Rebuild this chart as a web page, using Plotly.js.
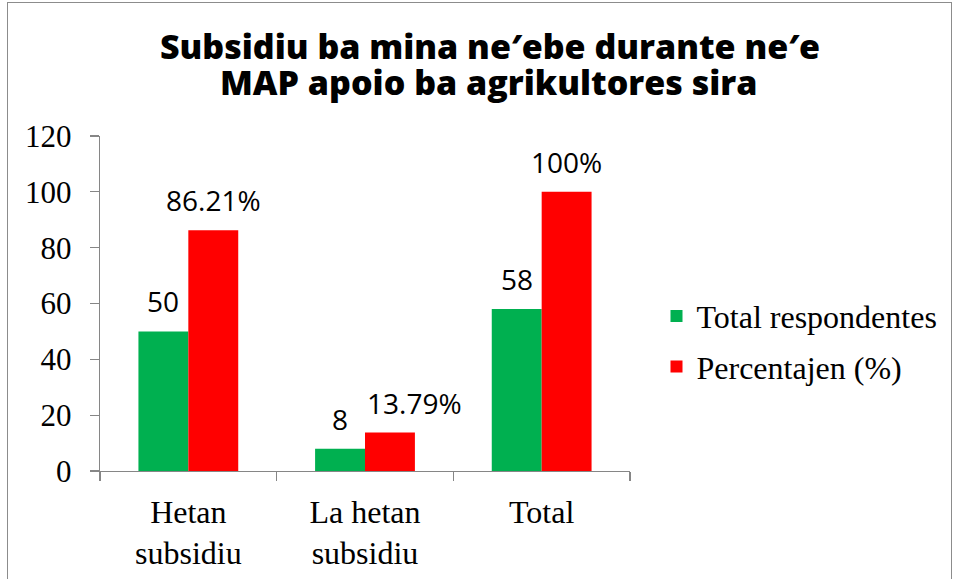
<!DOCTYPE html>
<html>
<head>
<meta charset="utf-8">
<script src="https://cdn.plot.ly/plotly-3.0.1.min.js"></script>
<style>
  html, body { margin: 0; padding: 0; background: #fff; }
  #wrap { position: relative; width: 954px; height: 579px; overflow: hidden; }
  #chart { width: 954px; height: 579px; }
  #frame { position: absolute; left: 7px; top: 2px; width: 945px; height: 600px;
           border: 1.5px solid #8c8c8c; pointer-events: none; box-sizing: border-box; }
</style>
</head>
<body>
<div id="wrap">
  <div id="chart"></div>
  <div id="frame"></div>
</div>
<script>
const categories = ["Hetan<br>subsidiu", "La hetan<br>subsidiu", "Total"];
const respondentes = [50, 8, 58];
const percentajen = [86.21, 13.79, 100];
const respondentesLabels = ["50", "8", "58"];
const percentajenLabels = ["86.21%", "13.79%", "100%"];
const seriesNames = ["Total respondentes", "Percentajen (%)"];
const yTicks = [0, 20, 40, 60, 80, 100, 120];
const titleLines = ["Subsidiu ba mina ne\u2032ebe durante ne\u2032e", "MAP apoio ba agrikultores sira"];

const serif = "Liberation Serif, Times New Roman, serif";
const axisColor = "#868686";
const titleFont = { family: "Open Sans, sans-serif", size: 34, weight: 800, color: "#000" };

const traces = [
  { type: "bar", name: seriesNames[0], x: categories, y: respondentes,
    marker: { color: "#00B050" }, hoverinfo: "none", legendgroup: "a" },
  { type: "bar", name: seriesNames[1], x: categories, y: percentajen,
    marker: { color: "#FF0000" }, hoverinfo: "none", legendgroup: "b" }
];

// label placement style: per-series horizontal offset (half bar width), extra nudge for crowded label
const labelStyle = [
  { dx: -25, nudge: [0, 0, 0] },
  { dx: 25, nudge: [0, 24, 0] }
];
const annotations = [];
[[respondentes, respondentesLabels], [percentajen, percentajenLabels]].forEach(([vals, labs], s) => {
  categories.forEach((c, i) => {
    annotations.push({
      x: c, y: vals[i], xref: "x", yref: "y", text: labs[i], showarrow: false,
      xanchor: "center", yanchor: "middle",
      xshift: labelStyle[s].dx + labelStyle[s].nudge[i], yshift: 30,
      font: { family: "Open Sans, sans-serif", size: 28, color: "#000" }
    });
  });
});
// second title line, placed just under the first
annotations.push({
  text: titleLines[1], xref: "paper", yref: "paper", x: 0.733, y: 1.16,
  xanchor: "center", yanchor: "middle", showarrow: false, font: titleFont
});

const layout = {
  width: 954, height: 579,
  margin: { l: 100, r: 322, t: 136, b: 108 },
  paper_bgcolor: "#fff", plot_bgcolor: "#fff",
  showlegend: true,
  barmode: "group", bargap: 0.435, bargroupgap: 0,
  title: {
    text: titleLines[0], xref: "container", yref: "container",
    x: 0.5136, xanchor: "center", y: 1 - 47 / 579, yanchor: "middle",
    font: titleFont
  },
  xaxis: {
    type: "category", showline: true, linecolor: axisColor, linewidth: 1.3,
    ticks: "outside", tickson: "boundaries", ticklen: 9, tickcolor: axisColor, tickwidth: 1.3,
    ticklabelstandoff: 12,
    tickfont: { family: serif, size: 32, color: "#000" },
    showgrid: false, zeroline: false, fixedrange: true
  },
  yaxis: {
    range: [0, 120], tickvals: yTicks, ticktext: yTicks.map(String),
    showline: true, linecolor: axisColor, linewidth: 1.3,
    ticks: "outside", ticklen: 9, tickcolor: axisColor, tickwidth: 1.3,
    ticklabelstandoff: 12,
    tickfont: { family: serif, size: 31, color: "#000" },
    showgrid: false, zeroline: false, fixedrange: true
  },
  legend: {
    x: 1.05, xanchor: "left", y: 0.386, yanchor: "middle",
    font: { family: serif, size: 32, color: "#000" },
    bgcolor: "rgba(0,0,0,0)", traceorder: "grouped", tracegroupgap: 6
  },
  annotations: annotations
};

Plotly.newPlot("chart", traces, layout, { staticPlot: true, displayModeBar: false });
</script>
</body>
</html>
